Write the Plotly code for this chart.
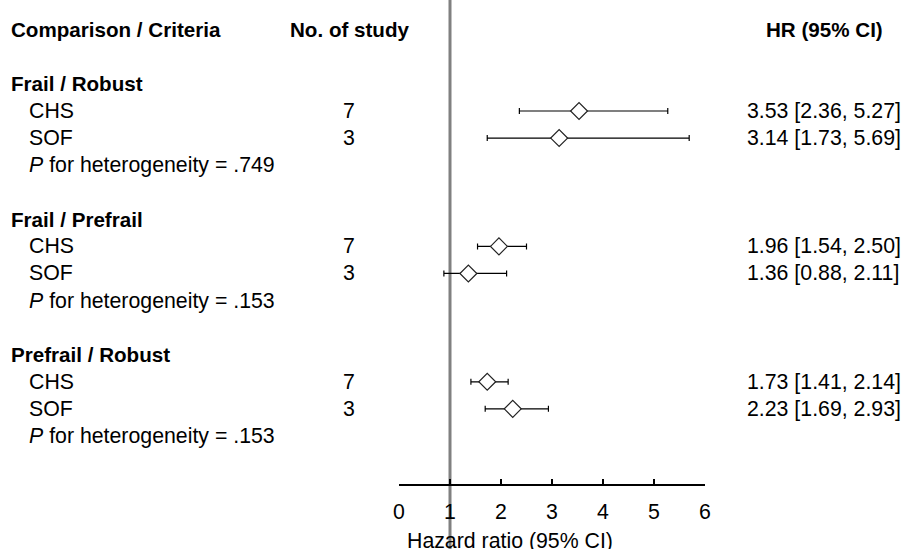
import plotly.graph_objects as go

# ---- data ----
groups = ["Frail / Robust", "Frail / Prefrail", "Prefrail / Robust"]
criteria = ["CHS", "SOF"]
n_study = [7, 3]
hr = [[3.53, 3.14], [1.96, 1.36], [1.73, 2.23]]
ci_lo = [[2.36, 1.73], [1.54, 0.88], [1.41, 1.69]]
ci_hi = [[5.27, 5.69], [2.50, 2.11], [2.14, 2.93]]
p_het = [".749", ".153", ".153"]
x_ticks = [0, 1, 2, 3, 4, 5, 6]
x_title = "Hazard ratio (95% CI)"

FONT = "Liberation Sans, Arial, Helvetica, sans-serif"
FS = 21.3
FSB = 20.6
W, H = 904, 549

def px(x):
    return x / W

fig = go.Figure()

ys, xs, ep, em = [], [], [], []
annotations = []

def ann(text, x, y, anchor="left", bold=False):
    annotations.append(dict(
        text=f"<b>{text}</b>" if bold else text,
        x=px(x), xref="paper", y=y, yref="y",
        xanchor=anchor, yanchor="middle", showarrow=False,
        borderpad=0,
        font=dict(family=FONT, size=FSB if bold else FS, color="black")))

# header row
ann("Comparison / Criteria", 10, 0, bold=True)
ann("No. of study", 350, 0, anchor="center", bold=True)
ann("HR (95% CI)", 824, 0, anchor="center", bold=True)

for g, gname in enumerate(groups):
    base = 2 + 5 * g
    ann(gname, 10, base, bold=True)
    for c, cname in enumerate(criteria):
        row = base + 1 + c
        ann(cname, 28, row)
        ann(str(n_study[c]), 349, row, anchor="center")
        h, lo, hi = hr[g][c], ci_lo[g][c], ci_hi[g][c]
        ann(f"{h:.2f} [{lo:.2f}, {hi:.2f}]", 746, row)
        ys.append(row)
        xs.append(h)
        ep.append(hi - h)
        em.append(h - lo)
    ann(f"<i>P</i> for heterogeneity = {p_het[g]}", 28, base + 3)

# x-axis title (placed as in the reference, slightly left of axis centre)
annotations.append(dict(
    text=x_title, x=px(510), xref="paper", y=(H - 541) / H, yref="paper",
    xanchor="center", yanchor="middle", showarrow=False, borderpad=0,
    font=dict(family=FONT, size=FS, color="black")))

fig.add_trace(go.Scatter(
    x=xs, y=ys, mode="markers",
    marker=dict(symbol="diamond", size=13, color="white",
                line=dict(color="#222222", width=1.2)),
    error_x=dict(type="data", symmetric=False, array=ep, arrayminus=em,
                 color="black", thickness=1.2, width=3),
    showlegend=False, hoverinfo="skip", cliponaxis=False))

# reference line at HR = 1
fig.add_shape(type="line", x0=1, x1=1, xref="x", y0=0, y1=1, yref="paper",
              line=dict(color="#808080", width=3), layer="below")

dom_bottom = (H - 483.5) / H
dom_top = (H - 10) / H
row0_px, row_step = 29.75, 27.08

fig.update_layout(
    width=W, height=H,
    margin=dict(l=0, r=0, t=0, b=0, autoexpand=False),
    paper_bgcolor="white", plot_bgcolor="white",
    annotations=annotations,
    xaxis=dict(domain=[px(399), px(705)], range=[0, 6],
               tickvals=x_ticks, ticktext=[str(t) for t in x_ticks],
               showline=True, linecolor="black", linewidth=2,
               ticks="inside", ticklen=5, tickwidth=2, tickcolor="black",
               showgrid=False, zeroline=False, ticklabelstandoff=8,
               automargin=False,
               tickfont=dict(family=FONT, size=FS, color="black")),
    yaxis=dict(domain=[dom_bottom, dom_top],
               range=[(483.5 - row0_px) / row_step, (10 - row0_px) / row_step],
               visible=False, showgrid=False, zeroline=False),
)

fig.write_html(
    "out.html",
    config={"displayModeBar": False, "staticPlot": True},
    post_script="document.body.style.margin='0';document.body.style.overflow='hidden';",
)
